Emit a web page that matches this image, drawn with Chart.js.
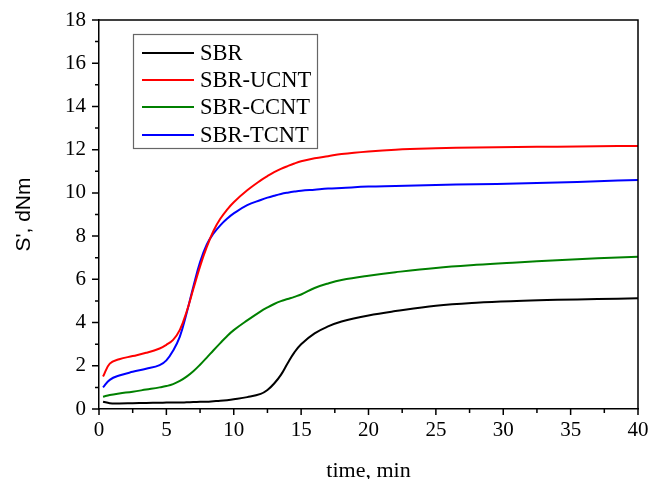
<!DOCTYPE html>
<html>
<head>
<meta charset="utf-8">
<script src="https://cdn.jsdelivr.net/npm/chart.js@4.4.0/dist/chart.umd.min.js"></script>
<style>
    body { margin: 0; background: #fff; }
    #wrap { width: 651px; height: 479px; }
</style>
</head>
<body>
<div id="wrap"><canvas id="curveChart" width="651" height="479"></canvas></div>
<script>
// tiempo (min) y valores de S' (dNm)
const times = [0.3, 0.8, 1.5, 2.5, 3.5, 4.5, 5, 5.5, 6, 6.5, 7, 7.5, 8, 8.5, 9, 9.5, 10, 11, 12, 12.5,
    13, 13.5, 14, 14.5, 15, 16, 17, 18, 20, 22, 25, 28, 31, 34, 37, 40];
const sbr = [0.34, 0.27, 0.26, 0.27, 0.28, 0.29, 0.30, 0.30, 0.30, 0.31, 0.32, 0.33, 0.34, 0.36, 0.38, 0.41, 0.45, 0.55, 0.70, 0.88,
    1.18, 1.58, 2.12, 2.62, 3.0, 3.5, 3.82, 4.05, 4.33, 4.53, 4.78, 4.92, 5.0, 5.05, 5.09, 5.12];
const sbrUcnt = [1.5, 2.1, 2.3, 2.45, 2.6, 2.8, 2.97, 3.2, 3.66, 4.5, 5.55, 6.6, 7.5, 8.25, 8.8, 9.22, 9.57, 10.12, 10.58, 10.78,
    10.96, 11.11, 11.24, 11.36, 11.46, 11.6, 11.7, 11.8, 11.92, 12.0, 12.06, 12.1, 12.12, 12.14, 12.16, 12.17];
const sbrCcnt = [0.57, 0.65, 0.72, 0.8, 0.9, 1.0, 1.06, 1.15, 1.3, 1.5, 1.75, 2.05, 2.38, 2.72, 3.05, 3.37, 3.65, 4.1, 4.52, 4.7,
    4.86, 4.99, 5.09, 5.19, 5.3, 5.6, 5.81, 5.97, 6.17, 6.33, 6.53, 6.67, 6.78, 6.88, 6.97, 7.05];
const sbrTcnt = [1.0, 1.35, 1.55, 1.72, 1.86, 2.03, 2.25, 2.7, 3.35, 4.43, 5.66, 6.8, 7.62, 8.12, 8.5, 8.8, 9.05, 9.43, 9.67, 9.78,
    9.87, 9.95, 10.01, 10.06, 10.1, 10.15, 10.2, 10.23, 10.29, 10.32, 10.37, 10.4, 10.43, 10.48, 10.54, 10.6];

const seriesNames = ['SBR', 'SBR-UCNT', 'SBR-CCNT', 'SBR-TCNT'];
const seriesColors = ['#000000', '#ff0000', '#008000', '#0000ff'];
const seriesValues = [sbr, sbrUcnt, sbrCcnt, sbrTcnt];

const serif = "'Liberation Serif', 'Times New Roman', serif";

function toPoints(values) {
    return times.map((t, i) => ({ x: t, y: values[i] }));
}

// marco superior/derecho y marcas menores/mayores hacia fuera
const framePlugin = {
    id: 'frame',
    afterDraw(chart) {
        const c = chart.ctx;
        const a = chart.chartArea;
        const xs = chart.scales.x;
        const ys = chart.scales.y;
        c.save();
        c.strokeStyle = '#000';
        c.lineWidth = 1.5;
        c.beginPath();
        c.moveTo(a.left, a.top);
        c.lineTo(a.right, a.top);
        c.lineTo(a.right, a.bottom);
        c.stroke();

        c.beginPath();
        for (let v = 0; v <= 40; v += 2.5) {
            const px = xs.getPixelForValue(v);
            const len = (v % 5 === 0) ? 6 : 4;
            c.moveTo(px, a.bottom);
            c.lineTo(px, a.bottom + len);
        }
        for (let v = 0; v <= 18; v += 1) {
            const py = ys.getPixelForValue(v);
            const len = (v % 2 === 0) ? 7 : 4;
            c.moveTo(a.left, py);
            c.lineTo(a.left - len, py);
        }
        c.stroke();
        c.restore();
    }
};

// leyenda dentro del área del gráfico
const boxLegend = {
    id: 'boxLegend',
    afterDraw(chart) {
        const c = chart.ctx;
        c.save();
        c.strokeStyle = '#666';
        c.lineWidth = 1.2;
        c.strokeRect(133.5, 34.5, 184, 114);
        c.font = '22.5px ' + serif;
        c.textBaseline = 'middle';
        c.fillStyle = '#000';
        const rows = [53, 80, 107, 135];
        chart.data.datasets.forEach((ds, i) => {
            c.strokeStyle = ds.borderColor;
            c.lineWidth = 2;
            c.beginPath();
            c.moveTo(142, rows[i]);
            c.lineTo(194, rows[i]);
            c.stroke();
            c.fillText(ds.label, 200, rows[i] + 1);
        });
        c.restore();
    }
};

const ctx = document.getElementById('curveChart').getContext('2d');

new Chart(ctx, {
    type: 'line',
    data: {
        datasets: seriesNames.map((name, i) => ({
            label: name,
            data: toPoints(seriesValues[i]),
            borderColor: seriesColors[i],
            borderWidth: 2,
            pointRadius: 0,
            fill: false,
            tension: 0.4
        }))
    },
    options: {
        responsive: false,
        animation: false,
        layout: { padding: { top: 20, right: 13, left: 0, bottom: 0 } },
        plugins: {
            legend: { display: false },
            tooltip: { enabled: false }
        },
        scales: {
            x: {
                type: 'linear',
                min: 0,
                max: 40,
                afterFit: function (scale) {
                    scale.height = 70;
                    scale.paddingLeft = 0;
                    scale.paddingRight = 0;
                },
                ticks: {
                    stepSize: 5,
                    color: '#000',
                    padding: 9,
                    maxRotation: 0,
                    font: { family: serif, size: 21 }
                },
                grid: { drawOnChartArea: false, drawTicks: false },
                border: { color: '#000', width: 1.5 },
                title: {
                    display: true,
                    text: 'time, min',
                    color: '#000',
                    font: { family: serif, size: 22 },
                    padding: { top: 0, bottom: -5 }
                }
            },
            y: {
                min: 0,
                max: 18,
                afterFit: function (scale) {
                    scale.width = 99;
                    scale.paddingTop = 0;
                    scale.paddingBottom = 0;
                },
                ticks: {
                    stepSize: 2,
                    color: '#000',
                    padding: 13,
                    font: { family: serif, size: 21 }
                },
                grid: { drawOnChartArea: false, drawTicks: false },
                border: { color: '#000', width: 1.5 },
                title: {
                    display: true,
                    text: "S', dNm",
                    color: '#000',
                    font: { family: "'Liberation Sans', Arial, sans-serif", size: 21 },
                    padding: { top: 12, bottom: 0 }
                }
            }
        }
    },
    plugins: [framePlugin, boxLegend]
});
</script>
</body>
</html>
